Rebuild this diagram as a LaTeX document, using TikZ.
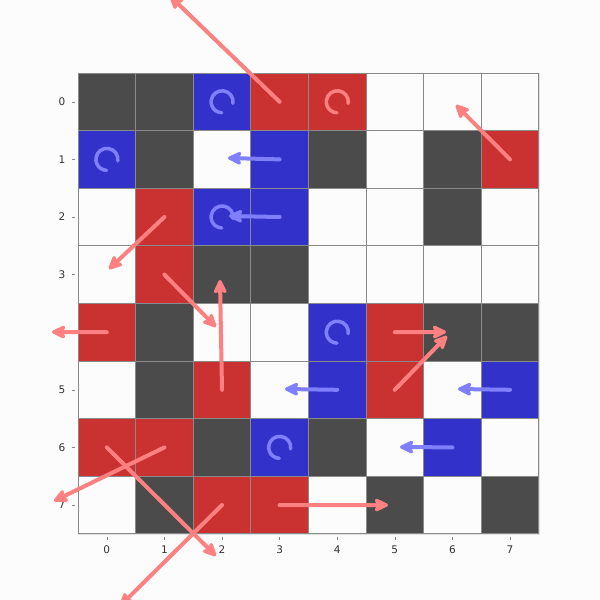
\documentclass[tikz,border=0pt]{standalone}
\usepackage{fontspec}
\setmainfont{DejaVu Sans}
\usetikzlibrary{arrows.meta}
\definecolor{cD}{HTML}{4B4B4B}
\definecolor{cW}{HTML}{FCFCFC}
\definecolor{cR}{HTML}{CA3232}
\definecolor{cB}{HTML}{3232CA}
\definecolor{gridgray}{HTML}{8A8A8A}
\definecolor{arrR}{HTML}{FF8080}
\definecolor{arrB}{HTML}{8080FF}
\definecolor{labgray}{HTML}{333333}
\tikzset{
  cell/.style={draw=gridgray,line width=0.9pt,minimum size=57.6pt,inner sep=0pt,outer sep=0pt},
  headtip/.style={-{Stealth[length=17pt,width=16pt,inset=4pt,round]}},
  redarr/.style={draw=arrR,line width=4pt,line cap=round,headtip},
  bluearr/.style={draw=arrB,line width=4pt,line cap=round,headtip},
  curlR/.style={draw=arrR,line width=3.5pt,line cap=round},
  curlB/.style={draw=arrB,line width=3.5pt,line cap=round},
  lab/.style={font=\fontsize{10.5pt}{12pt}\selectfont,text=labgray,inner sep=0pt},
  tick/.style={draw=labgray!60,line width=0.6pt}
}
\begin{document}
\begin{tikzpicture}[x=1pt,y=-1pt]
\useasboundingbox[fill=cW] (0,0) rectangle (600,600);
% outer frame
\draw[draw=black!12,line width=0.8pt] (78,73) rectangle (539,534);
% cells
\foreach \row [count=\r from 0] in {{D,D,B,R,R,W,W,W},{B,D,W,B,D,W,D,R},{W,R,B,B,W,W,D,W},{W,R,D,D,W,W,W,W},{R,D,W,W,B,R,D,D},{W,D,R,W,B,R,W,B},{R,R,D,B,D,W,B,W},{W,D,R,R,W,D,W,D}}{
  \foreach \k [count=\c from 0] in \row {
    \node[cell,fill=c\k] (cell-\r-\c) at ({106.8+57.6*\c},{101.8+57.6*\r}) {};
  }
}
% axis labels
\foreach \i in {0,...,7}{
  \node[lab] (rl-\i) at (62,{101.8+57.6*\i}) {\i};
  \draw[tick] (71.5,{101.8+57.6*\i}) -- (74.5,{101.8+57.6*\i});
  \node[lab] (cl-\i) at ({106.8+57.6*\i},550) {\i};
  \draw[tick] ({106.8+57.6*\i},536.5) -- ({106.8+57.6*\i},539.5);
}
% curls
\foreach \r/\c/\s in {0/2/curlB,0/4/curlR,1/0/curlB,2/2/curlB,4/4/curlB,6/3/curlB}{
  \draw[\s] ([shift={(11,1.5)}]cell-\r-\c.center) arc[start angle=8,end angle=-268,radius=11];
}
% endpoints
\coordinate (e1) at (170,-4);
\coordinate (e2) at (456,105);
\coordinate (e3) at (109,269);
\coordinate (e4) at (216,327);
\coordinate (e5) at (52,332);
\coordinate (e6) at (220,280);
\coordinate (e7) at (446,332);
\coordinate (e8) at (447,336);
\coordinate (e9) at (54,501);
\coordinate (e10) at (216,556);
\coordinate (e11) at (120,606);
\coordinate (e12) at (388,505);
\coordinate (b1) at (228,158);
\coordinate (b2) at (229,216);
\coordinate (b3) at (285,389);
\coordinate (b4) at (458,389);
\coordinate (b5) at (400,447);
% blue arrows
\draw[bluearr] (cell-1-3.center) -- (b1);
\draw[bluearr] (cell-2-3.center) -- (b2);
\draw[bluearr] (cell-5-4.center) -- (b3);
\draw[bluearr] (cell-5-7.center) -- (b4);
\draw[bluearr] (cell-6-6.center) -- (b5);
% red arrows
\draw[redarr] (cell-0-3.center) -- (e1);
\draw[redarr] (cell-1-7.center) -- (e2);
\draw[redarr] (cell-2-1.center) -- (e3);
\draw[redarr] (cell-3-1.center) -- (e4);
\draw[redarr] (cell-4-0.center) -- (e5);
\draw[redarr] (cell-5-2.center) -- (e6);
\draw[redarr] (cell-4-5.center) -- (e7);
\draw[redarr] (cell-5-5.center) -- (e8);
\draw[redarr] (cell-6-1.center) -- (e9);
\draw[redarr] (cell-6-0.center) -- (e10);
\draw[redarr] (cell-7-2.center) -- (e11);
\draw[redarr] (cell-7-3.center) -- (e12);
\end{tikzpicture}
\end{document}
